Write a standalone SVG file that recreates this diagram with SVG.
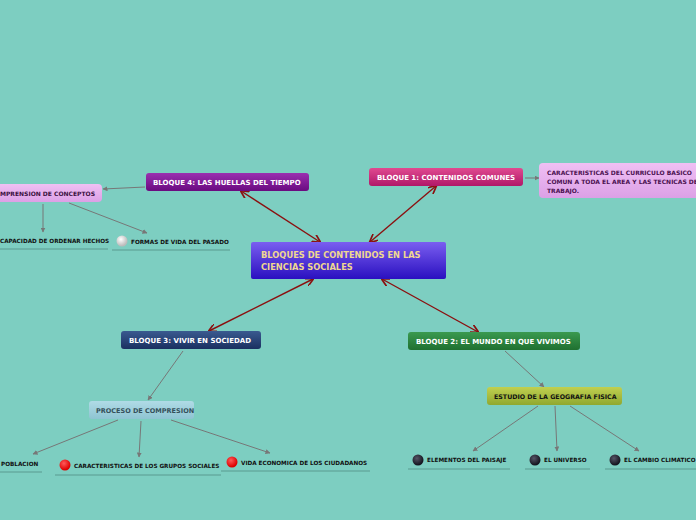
<svg xmlns="http://www.w3.org/2000/svg" width="696" height="520" viewBox="0 0 696 520">
<defs>
<marker id="ag" viewBox="0 0 10 10" refX="9" refY="5" markerWidth="5" markerHeight="5" orient="auto"><path d="M0,0L10,5L0,10z" fill="#777"/></marker>
<marker id="ar" viewBox="0 0 10 10" refX="9" refY="5" markerWidth="6" markerHeight="6" orient="auto-start-reverse"><path d="M0,0L10,5L0,10" fill="none" stroke="#8b1010" stroke-width="2"/></marker>
<linearGradient id="gc" x1="0" y1="0" x2="0" y2="1"><stop offset="0" stop-color="#7a5ef0"/><stop offset="1" stop-color="#2a10c0"/></linearGradient>
<linearGradient id="g4" x1="0" y1="0" x2="0" y2="1"><stop offset="0" stop-color="#9a30b0"/><stop offset="1" stop-color="#6a0a80"/></linearGradient>
<linearGradient id="g1" x1="0" y1="0" x2="0" y2="1"><stop offset="0" stop-color="#e04a90"/><stop offset="1" stop-color="#b01868"/></linearGradient>
<linearGradient id="g3" x1="0" y1="0" x2="0" y2="1"><stop offset="0" stop-color="#3a5a90"/><stop offset="1" stop-color="#1a3060"/></linearGradient>
<linearGradient id="g2" x1="0" y1="0" x2="0" y2="1"><stop offset="0" stop-color="#3a9a50"/><stop offset="1" stop-color="#1f7030"/></linearGradient>
<linearGradient id="gy" x1="0" y1="0" x2="0" y2="1"><stop offset="0" stop-color="#c0d050"/><stop offset="1" stop-color="#90a830"/></linearGradient>
<linearGradient id="gb" x1="0" y1="0" x2="0" y2="1"><stop offset="0" stop-color="#b0dbe6"/><stop offset="1" stop-color="#8ec4d2"/></linearGradient>
<linearGradient id="gp" x1="0" y1="0" x2="0" y2="1"><stop offset="0" stop-color="#f0c0f4"/><stop offset="1" stop-color="#dca0e6"/></linearGradient>
<radialGradient id="rr" cx=".4" cy=".35" r=".6"><stop offset="0" stop-color="#ff5a5a"/><stop offset="1" stop-color="#d00"/></radialGradient>
<radialGradient id="rd" cx=".4" cy=".35" r=".6"><stop offset="0" stop-color="#555566"/><stop offset="1" stop-color="#151520"/></radialGradient>
<radialGradient id="rw" cx=".4" cy=".35" r=".6"><stop offset="0" stop-color="#fff"/><stop offset="1" stop-color="#bbb"/></radialGradient>
</defs>
<style>
text{font-family:"DejaVu Sans",Verdana,sans-serif;font-weight:bold}
.w{fill:#fff;font-size:7px}
.k{fill:#111;font-size:5.7px}
.ul{stroke:#5a9a90;stroke-width:1}
.g{stroke:#777;stroke-width:1;fill:none;marker-end:url(#ag)}
.r{stroke:#8b1010;stroke-width:1.4;fill:none;marker-end:url(#ar);marker-start:url(#ar)}
</style>
<rect width="696" height="520" fill="#7dcec1"/>
<g id="connectors">
<line class="r" x1="320" y1="242" x2="241" y2="191"/>
<line class="r" x1="370" y1="242" x2="436" y2="186"/>
<line class="r" x1="313" y1="279" x2="209" y2="331"/>
<line class="r" x1="382" y1="279" x2="478" y2="332"/>
<line class="g" x1="145" y1="187" x2="103" y2="189"/>
<line class="g" x1="43" y1="204" x2="43" y2="232"/>
<line class="g" x1="69" y1="203" x2="147" y2="233"/>
<line class="g" x1="525" y1="178" x2="539" y2="178"/>
<line class="g" x1="183" y1="351" x2="148" y2="400"/>
<line class="g" x1="118" y1="420" x2="33" y2="454"/>
<line class="g" x1="141" y1="421" x2="139" y2="457"/>
<line class="g" x1="171" y1="420" x2="270" y2="453"/>
<line class="g" x1="505" y1="351" x2="544" y2="387"/>
<line class="g" x1="538" y1="406" x2="473" y2="451"/>
<line class="g" x1="555" y1="406" x2="557" y2="451"/>
<line class="g" x1="570" y1="406" x2="639" y2="451"/>
</g>
<g id="central"><rect x="251" y="242" width="195" height="37" rx="2" fill="url(#gc)"/><text x="261" y="258" fill="#f0d890" style="font-size:8.3px">BLOQUES DE CONTENIDOS EN LAS</text><text x="261" y="270" fill="#f0d890" style="font-size:8.3px">CIENCIAS SOCIALES</text></g>
<g id="b4"><rect x="146" y="173" width="163" height="18" rx="3" fill="url(#g4)"/><text class="w" x="153" y="185">BLOQUE 4: LAS HUELLAS DEL TIEMPO</text></g>
<g id="b1"><rect x="369" y="168" width="154" height="18" rx="3" fill="url(#g1)"/><text class="w" x="377" y="180">BLOQUE 1: CONTENIDOS COMUNES</text></g>
<g id="b3"><rect x="121" y="331" width="140" height="18" rx="3" fill="url(#g3)"/><text class="w" x="129" y="343">BLOQUE 3: VIVIR EN SOCIEDAD</text></g>
<g id="b2"><rect x="408" y="332" width="172" height="18" rx="3" fill="url(#g2)"/><text class="w" x="416" y="344">BLOQUE 2: EL MUNDO EN QUE VIVIMOS</text></g>
<g id="conceptos"><rect x="-10" y="184" width="112" height="18" rx="4" fill="url(#gp)"/><text x="0" y="196" fill="#3a1040" style="font-size:6px">MPRENSION DE CONCEPTOS</text></g>
<g id="caract"><rect x="539" y="163" width="170" height="35" rx="4" fill="url(#gp)"/><text x="547" y="175" fill="#4a1050" style="font-size:6px">CARACTERISTICAS DEL CURRICULO BASICO</text><text x="547" y="184" fill="#4a1050" style="font-size:6px">COMUN A TODA EL AREA Y LAS TECNICAS DE</text><text x="547" y="193" fill="#4a1050" style="font-size:6px">TRABAJO.</text></g>
<g id="proceso"><rect x="89" y="401" width="105" height="18" rx="3" fill="url(#gb)"/><text x="96" y="413" fill="#34505a" style="font-size:6.5px">PROCESO DE COMPRESION</text></g>
<g id="estudio"><rect x="487" y="387" width="135" height="18" rx="3" fill="url(#gy)"/><text x="494" y="399" fill="#111" style="font-size:6.3px">ESTUDIO DE LA GEOGRAFIA FISICA</text></g>
<g id="capacidad"><text class="k" x="0" y="243">CAPACIDAD DE ORDENAR HECHOS</text><line class="ul" x1="0" y1="249" x2="108" y2="249"/></g>
<g id="formas"><circle cx="122" cy="241" r="5.5" fill="url(#rw)"/><text class="k" x="131" y="244">FORMAS DE VIDA DEL PASADO</text><line class="ul" x1="112" y1="250" x2="230" y2="250"/></g>
<g id="poblacion"><text class="k" x="1" y="466">POBLACION</text><line class="ul" x1="0" y1="472" x2="42" y2="472"/></g>
<g id="grupos"><circle cx="65" cy="465" r="5.5" fill="url(#rr)"/><text class="k" x="74" y="468">CARACTERISTICAS DE LOS GRUPOS SOCIALES</text><line class="ul" x1="55" y1="475" x2="221" y2="475"/></g>
<g id="vida"><circle cx="232" cy="462" r="5.5" fill="url(#rr)"/><text class="k" x="241" y="465">VIDA ECONOMICA DE LOS CIUDADANOS</text><line class="ul" x1="221" y1="471" x2="370" y2="471"/></g>
<g id="paisaje"><circle cx="418" cy="460" r="5.5" fill="url(#rd)"/><text class="k" x="427" y="462">ELEMENTOS DEL PAISAJE</text><line class="ul" x1="408" y1="469" x2="510" y2="469"/></g>
<g id="universo"><circle cx="535" cy="460" r="5.5" fill="url(#rd)"/><text class="k" x="544" y="462">EL UNIVERSO</text><line class="ul" x1="525" y1="469" x2="590" y2="469"/></g>
<g id="clima"><circle cx="615" cy="460" r="5.5" fill="url(#rd)"/><text class="k" x="624" y="462">EL CAMBIO CLIMATICO</text><line class="ul" x1="605" y1="469" x2="696" y2="469"/></g>
</svg>
